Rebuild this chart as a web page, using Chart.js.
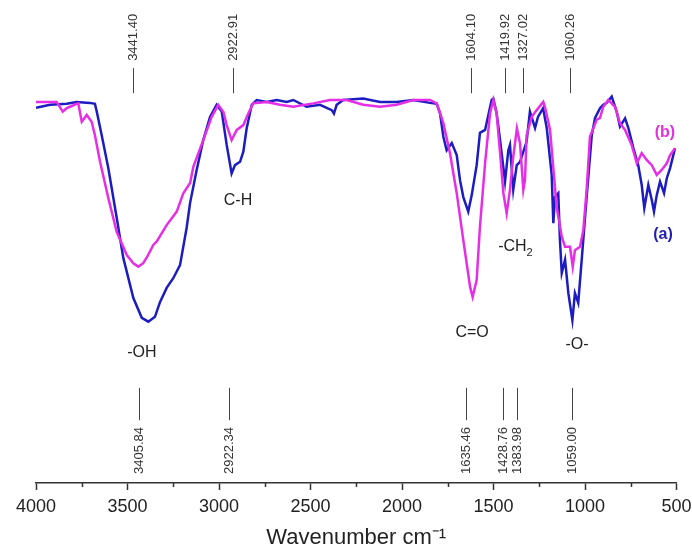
<!DOCTYPE html>
<html>
<head>
<meta charset="utf-8">
<script src="https://cdn.jsdelivr.net/npm/chart.js@4/dist/chart.umd.min.js"></script>
<style>
  body { margin: 0; background: #fff; }
  #wrap { width: 692px; height: 549px; position: relative; }
</style>
</head>
<body>
<div id="wrap"><canvas id="irChart"></canvas></div>
<script>
// spectrum (a) - blue
const waveA = [4000, 3923, 3832, 3778, 3705, 3678, 3668, 3641, 3605, 3559, 3523, 3468, 3422, 3386, 3350, 3322,
  3286, 3250, 3213, 3177, 3158, 3122, 3086, 3049, 3013, 2985, 2958, 2931, 2913, 2885, 2867, 2849, 2821, 2794,
  2739, 2685, 2630, 2594, 2521, 2448, 2384, 2372, 2357, 2321, 2212, 2120, 2029, 1938, 1847, 1810, 1792, 1774,
  1756, 1728, 1701, 1683, 1665, 1638, 1619, 1592, 1574, 1546, 1510, 1501, 1483, 1464, 1437, 1419, 1410, 1392,
  1373, 1355, 1319, 1301, 1273, 1257, 1229, 1209, 1182, 1173, 1164, 1146, 1137, 1127, 1109, 1091, 1069, 1055,
  1037, 1018, 991, 963, 945, 918, 900, 881, 854, 827, 809, 781, 763, 736, 709, 690, 676, 654, 635, 623, 608,
  590, 568, 553, 535, 508];
const transA = [77.7, 78.3, 78.5, 78.9, 78.7, 78.5, 76.9, 72.0, 65.2, 54.9, 46.6, 38.3, 34.2, 33.4, 34.4, 37.5,
  40.4, 42.4, 45.1, 52.8, 58.0, 64.8, 71.0, 75.8, 78.3, 76.9, 70.0, 64.1, 65.8, 66.5, 68.6, 73.4, 78.3, 79.3,
  78.9, 79.3, 78.9, 79.3, 77.9, 78.3, 77.2, 76.5, 78.3, 79.3, 79.6, 78.9, 78.9, 79.3, 78.7, 78.5, 76.5, 71.7,
  68.9, 70.4, 67.9, 62.7, 59.2, 56.2, 59.6, 65.8, 72.5, 73.1, 79.3, 79.6, 76.6, 71.0, 62.4, 68.9, 70.0, 60.7,
  65.8, 66.5, 70.7, 76.9, 73.5, 75.8, 77.6, 73.5, 63.8, 53.8, 59.2, 60.0, 50.3, 43.5, 46.2, 39.3, 33.7, 39.3,
  37.3, 46.2, 59.2, 72.0, 75.6, 77.6, 78.3, 78.7, 80.0, 76.9, 73.8, 75.5, 73.5, 69.4, 65.8, 61.7, 56.9, 61.7,
  58.6, 56.2, 59.6, 62.4, 60.0, 63.1, 65.2, 69.3];

// spectrum (b) - magenta
const waveB = [4000, 3923, 3887, 3854, 3832, 3814, 3778, 3769, 3750, 3723, 3696, 3678, 3650, 3605, 3559, 3504,
  3468, 3441, 3414, 3393, 3359, 3340, 3286, 3231, 3195, 3158, 3140, 3086, 3040, 3004, 2976, 2958, 2931, 2903,
  2867, 2840, 2813, 2739, 2667, 2594, 2485, 2393, 2302, 2212, 2120, 2029, 1938, 1847, 1810, 1774, 1738, 1701,
  1665, 1628, 1614, 1592, 1574, 1546, 1519, 1501, 1483, 1464, 1446, 1428, 1410, 1392, 1372, 1355, 1337, 1328,
  1319, 1291, 1264, 1228, 1219, 1191, 1155, 1127, 1109, 1082, 1067, 1055, 1027, 1009, 991, 973, 936, 918, 900,
  873, 836, 809, 781, 745, 717, 690, 663, 635, 608, 581, 553, 535, 508];
const transB = [78.9, 78.9, 78.9, 76.9, 77.6, 77.9, 78.5, 78.6, 74.8, 76.2, 74.8, 72.0, 66.5, 59.0, 52.0, 47.2,
  45.5, 44.8, 45.5, 46.8, 49.3, 50.0, 53.4, 56.2, 60.0, 62.1, 65.5, 71.0, 75.8, 78.3, 76.8, 74.1, 71.0, 73.1,
  74.1, 76.5, 78.6, 78.9, 78.3, 77.9, 78.6, 79.3, 79.3, 78.3, 77.9, 78.3, 79.3, 79.3, 78.6, 74.5, 68.3, 60.0,
  50.3, 40.6, 38.5, 42.0, 53.1, 66.2, 76.5, 79.3, 76.5, 68.3, 60.0, 55.8, 60.7, 67.6, 73.4, 70.3, 60.7, 62.7,
  72.0, 75.8, 77.2, 78.9, 77.9, 73.1, 57.2, 51.0, 48.9, 48.9, 44.8, 48.2, 48.9, 52.4, 60.7, 71.7, 75.2, 75.6,
  77.9, 79.3, 77.9, 74.5, 73.1, 70.0, 66.2, 68.3, 66.9, 65.8, 63.8, 64.8, 66.2, 67.9, 69.3];

// marked peak positions (cm-1)
const peaksB = [3441.40, 2922.91, 1604.10, 1419.92, 1327.02, 1060.26];
const peaksA = [3405.84, 2922.34, 1635.46, 1428.76, 1383.98, 1059.00];

const xTicks = [4000, 3500, 3000, 2500, 2000, 1500, 1000, 500];
const minorTicks = [3750, 3250, 2750, 2250, 1750, 1250, 750];

// small sideways shifts (px) so close marker labels don't collide
const nudgeTop = [-5, 0, -3, -3, -2, -4];
const nudgeBottom = [-6, -4, -3, -4, 2, -2];

// band assignments and curve tags
const bandLabels = [
  { text: "-OH", w: 3421, t: 26.9, color: "#222" },
  { text: "C-H", w: 2896, t: 58.4, color: "#222" },
  { text: "C=O", w: 1617, t: 31.1, color: "#222" },
  { text: "-CH", sub: "2", w: 1380, t: 48.9, color: "#222" },
  { text: "-O-", w: 1044, t: 28.6, color: "#222" },
  { text: "(b)", w: 563, t: 72.5, color: "#e030e0", bold: true },
  { text: "(a)", w: 574, t: 51.4, color: "#1f1fb0", bold: true }
];

const FONT = "'Liberation Sans', Arial, sans-serif";

function toPoints(xs, ys) {
  return xs.map((x, i) => ({ x: x, y: ys[i] }));
}

// draws peak markers, minor ticks and the band labels
const annotatePlugin = {
  id: "annotate",
  afterDraw(chart) {
    const ctx = chart.ctx;
    const xs = chart.scales.x;
    const ys = chart.scales.y;
    const area = chart.chartArea;
    ctx.save();

    // minor ticks on the x axis
    ctx.strokeStyle = "#333";
    ctx.lineWidth = 1.5;
    minorTicks.forEach((v) => {
      const px = Math.round(xs.getPixelForValue(v)) + 0.5;
      ctx.beginPath();
      ctx.moveTo(px, area.bottom);
      ctx.lineTo(px, area.bottom + 4);
      ctx.stroke();
    });

    ctx.strokeStyle = "#444";
    ctx.lineWidth = 1;
    ctx.fillStyle = "#333";
    ctx.font = "13px " + FONT;
    ctx.textBaseline = "middle";

    // top markers (b)
    peaksB.forEach((p, i) => {
      const px = Math.round(xs.getPixelForValue(p) + nudgeTop[i]) + 0.5;
      ctx.beginPath();
      ctx.moveTo(px, ys.getPixelForValue(85.9));
      ctx.lineTo(px, ys.getPixelForValue(80.7));
      ctx.stroke();
      ctx.save();
      ctx.translate(px, ys.getPixelForValue(87.4));
      ctx.rotate(-Math.PI / 2);
      ctx.textAlign = "left";
      ctx.fillText(p.toFixed(2), 0, 0);
      ctx.restore();
    });

    // bottom markers (a)
    peaksA.forEach((p, i) => {
      const px = Math.round(xs.getPixelForValue(p) + nudgeBottom[i]) + 0.5;
      ctx.beginPath();
      ctx.moveTo(px, ys.getPixelForValue(19.7));
      ctx.lineTo(px, ys.getPixelForValue(13.0));
      ctx.stroke();
      ctx.save();
      ctx.translate(px, ys.getPixelForValue(11.6));
      ctx.rotate(-Math.PI / 2);
      ctx.textAlign = "right";
      ctx.fillText(p.toFixed(2), 0, 0);
      ctx.restore();
    });

    // band labels
    bandLabels.forEach((b) => {
      const px = xs.getPixelForValue(b.w);
      const py = ys.getPixelForValue(b.t);
      ctx.fillStyle = b.color;
      ctx.font = (b.bold ? "bold " : "") + "16px " + FONT;
      if (b.sub) {
        const w1 = ctx.measureText(b.text).width;
        ctx.font = "11px " + FONT;
        const w2 = ctx.measureText(b.sub).width;
        const left = px - (w1 + w2) / 2;
        ctx.textAlign = "left";
        ctx.font = "16px " + FONT;
        ctx.fillText(b.text, left, py);
        ctx.font = "11px " + FONT;
        ctx.fillText(b.sub, left + w1, py + 6);
      } else {
        ctx.textAlign = "center";
        ctx.fillText(b.text, px, py);
      }
    });

    ctx.restore();
  }
};

document.addEventListener("DOMContentLoaded", function () {
  const ctx = document.getElementById("irChart").getContext("2d");

  new Chart(ctx, {
    type: "line",
    data: {
      datasets: [
        {
          label: "(b)",
          data: toPoints(waveB, transB),
          borderColor: "#e52ee5",
          borderWidth: 2.5,
          pointRadius: 0,
          tension: 0,
          fill: false,
          order: 1
        },
        {
          label: "(a)",
          data: toPoints(waveA, transA),
          borderColor: "#1c1cc0",
          borderWidth: 2.5,
          pointRadius: 0,
          tension: 0,
          fill: false,
          order: 2
        }
      ]
    },
    options: {
      responsive: true,
      maintainAspectRatio: false,
      animation: false,
      layout: { padding: { left: 36, right: 15.5, top: 0, bottom: 0 } },
      plugins: {
        legend: { display: false },
        tooltip: { enabled: false }
      },
      scales: {
        x: {
          type: "linear",
          reverse: true,
          min: 500,
          max: 4000,
          afterBuildTicks: (axis) => {
            axis.ticks = xTicks.map((v) => ({ value: v }));
          },
          // let layout.padding alone decide the side margins
          afterFit: (axis) => {
            axis.paddingLeft = 0;
            axis.paddingRight = 0;
          },
          grid: {
            display: true,
            drawOnChartArea: false,
            drawTicks: true,
            tickLength: 7,
            tickWidth: 1.5,
            tickColor: "#333"
          },
          border: { display: true, color: "#333", width: 1.5 },
          ticks: {
            autoSkip: false,
            maxRotation: 0,
            padding: 6,
            color: "#222",
            font: { family: FONT, size: 18 },
            callback: (v) => String(v)
          },
          title: {
            display: true,
            text: "Wavenumber cm⁻¹",
            color: "#222",
            font: { family: FONT, size: 22, lineHeight: 1 },
            padding: { top: 3.4, bottom: 0 }
          }
        },
        y: {
          display: false,
          min: 0,
          max: 100
        }
      }
    },
    plugins: [annotatePlugin]
  });
});
</script>
</body>
</html>
